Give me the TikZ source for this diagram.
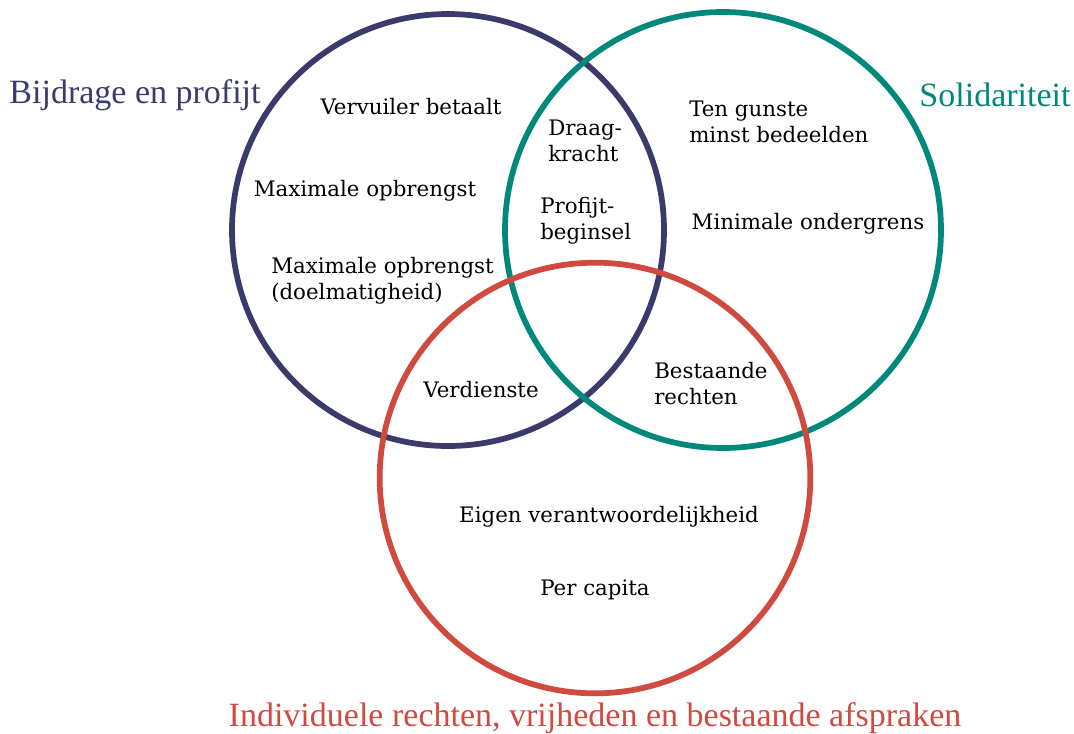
\documentclass[tikz,border=0pt]{standalone}
\usepackage{fontspec}
\setmainfont{DejaVu Serif}
\newfontfamily\titlefont{Liberation Serif}
\definecolor{bijdrageblue}{HTML}{3B3B6B}
\definecolor{solidteal}{HTML}{00897B}
\definecolor{rechtenred}{HTML}{D04A40}
\tikzset{
	kring/.style = {line width = 4.3pt},
	lbl/.style = {font = \fontsize{16}{19.5}\selectfont, inner sep = 0pt},
	lbll/.style = {lbl, align = left, anchor = west},
	titel/.style = {font = \titlefont\fontsize{25.5}{28}\selectfont, inner sep = 0pt}
}
\begin{document}
\begin{tikzpicture}[x = 0.75pt, y = -0.75pt]
	\useasboundingbox (0,0) rectangle (1074,733);
	\coordinate[](cblue) at (448,230) ;
	\coordinate[](cteal) at (723,230) ;
	\coordinate[](cred) at (595,478) ;
	
	\draw[kring, bijdrageblue] (cblue) circle (162pt);
	\draw[kring, solidteal] (cteal) circle (163.5pt);
	\draw[kring, rechtenred] (cred) circle (161.5pt);
	
	% titels
	\node[titel, bijdrageblue](tblue) at (135,95) {Bijdrage en profijt};
	\node[titel, solidteal](tteal) at (995,95) {Solidariteit};
	\node[titel, rechtenred](tred) at (595,718) {Individuele rechten, vrijheden en bestaande afspraken};
	
	% bijdrage
	\node[lbl](vervuiler) at (411,107) {Vervuiler betaalt};
	\node[lbl](maxopbr) at (365,191) {Maximale opbrengst};
	\node[lbll](doelmatig) at (271,281) {Maximale opbrengst\\(doelmatigheid)};
	
	% overlap bijdrage / solidariteit
	\node[lbll](draag) at (548,141) {Draag-\\kracht};
	\node[lbll](profijt) at (540,221) {Profijt-\\beginsel};
	
	% solidariteit
	\node[lbll](gunste) at (689,122) {Ten gunste\\minst bedeelden};
	\node[lbl](ondergrens) at (808,224) {Minimale ondergrens};
	
	% overlap met rechten
	\node[lbl](verdienste) at (481,390) {Verdienste};
	\node[lbll](bestaand) at (654,384) {Bestaande\\rechten};
	
	% rechten
	\node[lbl](eigen) at (609,517) {Eigen verantwoordelijkheid};
	\node[lbl](capita) at (595,590) {Per capita};
\end{tikzpicture}
\end{document}
